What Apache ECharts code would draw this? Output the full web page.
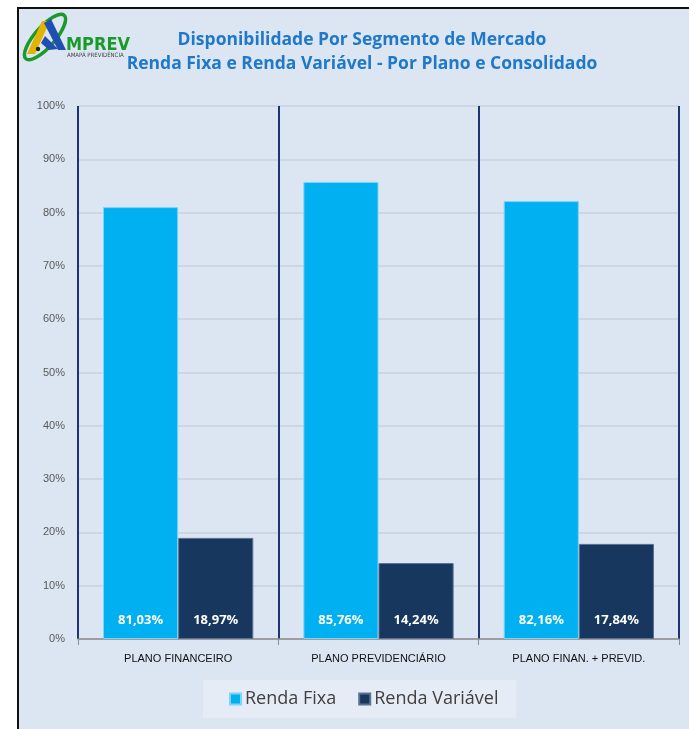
<!DOCTYPE html>
<html><head><meta charset="utf-8">
<script src="https://cdn.jsdelivr.net/npm/echarts@6/dist/echarts.min.js"></script>
<style>html,body{margin:0;padding:0;background:#fff}#c{width:689px;height:729px}</style>
</head><body><div id="c"></div>
<script>
const categories = ['PLANO FINANCEIRO', 'PLANO PREVIDENCIÁRIO', 'PLANO FINAN. + PREVID.'];
const rendaFixa = [81.03, 85.76, 82.16];
const rendaVariavel = [18.97, 14.24, 17.84];
const titleLines = ['Disponibilidade Por Segmento de Mercado', 'Renda Fixa e Renda Variável - Por Plano e Consolidado'];
const yTicks = {min: 0, max: 100, interval: 10};

const chart = echarts.init(document.getElementById('c'), null, {renderer: 'canvas'});
const fmt = p => p.value.toFixed(2).replace('.', ',') + '%';
chart.setOption({
  backgroundColor: '#ffffff',
  animation: false,
  graphic: [
    {type: 'rect', z: -10, shape: {x: 18, y: 8, width: 700, height: 740}, style: {fill: '#dce6f2', stroke: '#111', lineWidth: 2}},
    {type: 'text', x: 362, y: 28, z: 10, style: {text: titleLines[0] + '\n' + titleLines[1], fill: '#1f78c8', font: 'bold 17.5px "Open Sans"', textAlign: 'center', lineHeight: 24}},
    {type: 'ellipse', x: 45, y: 37, rotation: 0.85, shape: {cx: 0, cy: 0, rx: 29, ry: 10}, style: {fill: 'none', stroke: '#1a9a2a', lineWidth: 3.5}},
    {type: 'polygon', shape: {points: [[27, 54], [35, 54], [50, 21], [42, 21]]}, style: {fill: '#e2b400'}},
    {type: 'polygon', shape: {points: [[44, 23], [51, 19], [66, 50], [58, 50]]}, style: {fill: '#1f4fb0'}},
    {type: 'polygon', shape: {points: [[41, 43], [45, 36], [58, 49], [49, 50]]}, style: {fill: '#1f4fb0'}},
    {type: 'circle', shape: {cx: 38, cy: 49, r: 2.2}, style: {fill: '#222'}},
    {type: 'text', x: 66, y: 36, style: {text: 'MPREV', fill: '#1a9a2a', font: 'bold 18px "DejaVu Sans Condensed"'}},
    {type: 'text', x: 67, y: 52, style: {text: 'AMAPÁ PREVIDÊNCIA', fill: '#444', font: '6px "DejaVu Sans Condensed"'}}
  ],
  grid: {left: 78, right: 10, top: 106, bottom: 90, containLabel: false},
  legend: {
    data: ['Renda Fixa', 'Renda Variável'],
    left: 203, top: 680,
    backgroundColor: '#e5ecf6',
    padding: [10, 18, 10, 26],
    itemWidth: 11, itemHeight: 11, itemGap: 22,
    icon: 'rect',
    textStyle: {fontSize: 18, color: '#404040', fontFamily: 'Open Sans', padding: [0, 0, 0, -1]}
  },
  xAxis: {
    type: 'category', data: categories,
    axisLine: {lineStyle: {color: '#8c8c8c', width: 1.5}},
    axisTick: {show: true, length: 6, lineStyle: {color: '#8c8c8c'}},
    axisLabel: {color: '#111', fontSize: 11, margin: 14, fontFamily: 'Liberation Sans'},
    splitLine: {show: true, lineStyle: {color: '#1f3472', width: 2}}
  },
  yAxis: {
    type: 'value', min: yTicks.min, max: yTicks.max, interval: yTicks.interval,
    axisLabel: {formatter: '{value}%', color: '#595959', fontSize: 11, margin: 13, fontFamily: 'Liberation Sans'},
    axisLine: {show: false}, axisTick: {show: false},
    splitLine: {lineStyle: {color: '#c9d1dc', width: 1.5}}
  },
  series: [
    {name: 'Renda Fixa', type: 'bar', data: rendaFixa, barGap: '0%', barCategoryGap: '25%',
     itemStyle: {color: '#00b0f0', borderColor: '#7fd3f5', borderWidth: 1},
     label: {show: true, position: 'insideBottom', distance: 12, formatter: fmt, color: '#fff', fontWeight: 'bold', fontSize: 13, fontFamily: 'Open Sans'}},
    {name: 'Renda Variável', type: 'bar', data: rendaVariavel,
     itemStyle: {color: '#17375e', borderColor: '#5a7090', borderWidth: 1},
     label: {show: true, position: 'insideBottom', distance: 12, formatter: fmt, color: '#fff', fontWeight: 'bold', fontSize: 13, fontFamily: 'Open Sans'}}
  ]
});
</script></body></html>
